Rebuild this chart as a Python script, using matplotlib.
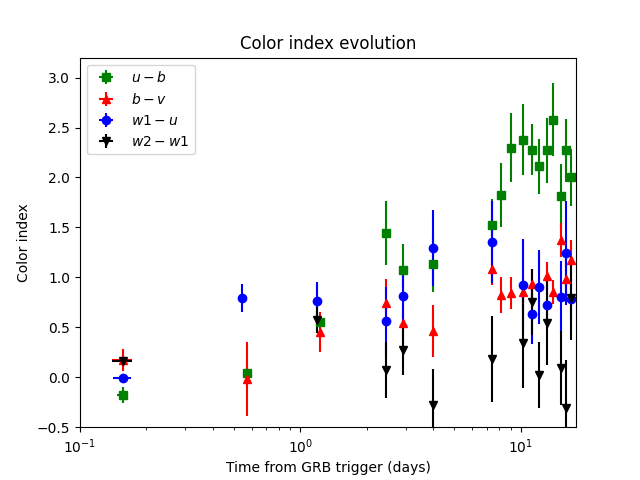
import matplotlib
matplotlib.use('Agg')
import matplotlib.pyplot as plt

# u - b
t_ub = [0.156, 0.571, 1.226, 2.45, 2.92, 4.0, 7.42, 8.15, 9.05, 10.26, 11.26, 12.13, 13.1, 14.05, 15.28, 16.1, 16.98]
ub = [-0.18, 0.04, 0.55, 1.44, 1.07, 1.13, 1.52, 1.82, 2.30, 2.38, 2.28, 2.11, 2.27, 2.58, 1.81, 2.27, 2.00]
ub_err = [0.08, 0.1, 0.05, 0.32, 0.26, 0.28, 0.26, 0.32, 0.35, 0.36, 0.26, 0.28, 0.33, 0.37, 0.32, 0.32, 0.29]
ub_xerr = [0.009, 0, 0, 0, 0, 0, 0, 0, 0, 0, 0, 0, 0, 0, 0, 0, 0]

# b - v
t_bv = [0.156, 0.571, 1.226, 2.45, 2.92, 4.0, 7.42, 8.15, 9.05, 10.26, 11.26, 13.1, 14.05, 15.28, 16.1, 16.98]
bv = [0.17, -0.02, 0.45, 0.74, 0.54, 0.46, 1.08, 0.82, 0.84, 0.85, 0.93, 1.01, 0.85, 1.37, 0.98, 1.17]
bv_err = [0.11, 0.37, 0.2, 0.24, 0.2, 0.26, 0.16, 0.18, 0.16, 0.15, 0.15, 0.14, 0.12, 0.17, 0.2, 0.2]
bv_xerr = [0.016, 0, 0, 0, 0, 0, 0, 0, 0, 0, 0, 0, 0, 0, 0, 0]

# w1 - u
t_w1u = [0.156, 0.542, 1.19, 2.45, 2.92, 4.0, 7.42, 10.26, 11.26, 12.13, 13.1, 15.28, 16.1, 16.98]
w1u = [-0.01, 0.79, 0.76, 0.56, 0.81, 1.29, 1.35, 0.92, 0.63, 0.90, 0.72, 0.80, 1.24, 0.78]
w1u_err = [0.03, 0.14, 0.19, 0.34, 0.25, 0.38, 0.41, 0.46, 0.3, 0.37, 0.2, 0.36, 0.52, 0.2]
w1u_xerr = [0.015, 0, 0, 0, 0, 0, 0, 0, 0, 0, 0, 0, 0, 0]

# w2 - w1
t_w2w1 = [0.156, 1.19, 2.45, 2.92, 4.0, 7.42, 10.26, 11.26, 12.13, 13.1, 15.28, 16.1, 16.98]
w2w1 = [0.16, 0.57, 0.07, 0.27, -0.28, 0.18, 0.34, 0.75, 0.02, 0.54, 0.09, -0.31, 0.79]
w2w1_err = [0.03, 0.13, 0.28, 0.25, 0.36, 0.43, 0.45, 0.33, 0.33, 0.42, 0.37, 0.48, 0.42]
w2w1_xerr = [0.016, 0, 0, 0, 0, 0, 0, 0, 0, 0, 0, 0, 0]

plt.figure(figsize=(6.4, 4.8), dpi=100)

plt.errorbar(t_ub, ub, yerr=ub_err, xerr=ub_xerr, fmt='s', color='green', label='$u-b$')
plt.errorbar(t_bv, bv, yerr=bv_err, xerr=bv_xerr, fmt='^', color='red', label='$b-v$')
plt.errorbar(t_w1u, w1u, yerr=w1u_err, xerr=w1u_xerr, fmt='o', color='blue', label='$w1-u$')
plt.errorbar(t_w2w1, w2w1, yerr=w2w1_err, xerr=w2w1_xerr, fmt='v', color='black', label='$w2-w1$')

plt.xscale('log')
plt.xlim(0.1, 17.8)
plt.ylim(-0.5, 3.2)

# Achsentitel und Titel
plt.title('Color index evolution')
plt.xlabel('Time from GRB trigger (days)')
plt.ylabel('Color index')
plt.legend(loc='upper left')

plt.savefig('out.png')
